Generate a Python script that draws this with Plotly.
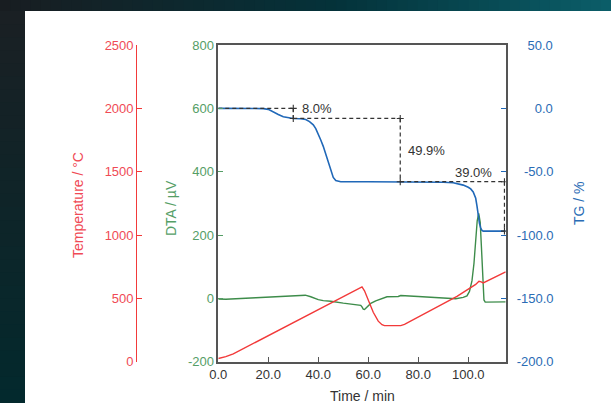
import plotly.graph_objects as go

W, H = 611, 403

# ---- measured curves (time in minutes) ----
tg_time = [0, 10, 18, 20, 22, 24, 26, 28, 30, 33, 35, 36.5, 38, 39, 40, 41, 42, 43, 44, 45,
           46, 47, 48, 49, 60, 75, 86, 90, 94, 96, 98, 100, 101, 102, 103, 103.5, 104,
           104.5, 105, 105.5, 106, 110, 115]
tg_percent = [0, 0, -0.2, -0.8, -2.5, -4.8, -6.6, -7.6, -8.0, -8.2, -8.8, -10.5, -13, -16,
              -20, -25, -30, -36.5, -43, -49.5, -54.5, -57, -57.7, -57.9, -57.9, -57.9,
              -58.0, -58.3, -58.7, -59.4, -60.6, -62.3, -63.6, -66, -71, -77, -84.5,
              -90.8, -94.5, -96.4, -96.9, -96.9, -96.9]

dta_time = [0, 3, 15, 25, 34.8, 37, 40, 42, 45, 50, 55, 57, 57.5, 58, 58.5, 59.5, 61, 63,
            65, 67.5, 72, 73, 80, 88, 95, 98, 99.5, 100.5, 101.5, 102.3, 103, 103.6, 104.2,
            104.8, 105.3, 105.8, 106.3, 106.8, 110, 115]
dta_uv = [-2, -3, 2, 6, 10, 5, -4, -7, -9, -15, -19, -22, -27, -34, -35, -28, -16, -8,
          -2, 5, 6, 9, 6, 2, -1, 3, 8, 22, 55, 110, 190, 245, 268, 240, 160, 60, -5,
          -12, -12, -11]

temp_time = [0, 3, 6, 57.5, 58.5, 60, 62, 64, 65.5, 66.5, 73, 74.5, 85.5, 95.5, 103,
             104.3, 105.2, 106, 115]
temp_c = [25, 40, 62, 590, 560, 480, 390, 320, 292, 285, 285, 295, 410, 515, 610,
          635, 630, 622, 710]

# ---- mass-loss steps read on the TG curve ----
step_time = [30.0, 72.8, 114.5]
step_level = [0.0, -8.0, -57.9, -96.9]

# ---- axis ticks ----
x_ticks = [0, 20, 40, 60, 80, 100]
dta_ticks = [-200, 0, 200, 400, 600, 800]
tg_ticks = [-200, -150, -100, -50, 0, 50]
temp_ticks = [0, 500, 1000, 1500, 2000, 2500]

RED_LINE, RED_TXT = "#f23a3a", "#f04a55"
GREEN_LINE, GREEN_TXT = "#3d8c4a", "#559e66"
BLUE_LINE, BLUE_TXT = "#2068b8", "#2a6cb5"
FRAME = "#555555"
TXT = "#333333"
FONT = "Liberation Sans, Arial, Helvetica, sans-serif"

# plot box in pixels
BOX_L, BOX_R, BOX_T, BOX_B = 218.3, 505.7, 45.0, 361.7
TEMP_AXIS_X = 136.3


def fx(p):
    return p / W


def fy(p):
    return 1 - p / H


fig = go.Figure()

fig.add_trace(go.Scatter(x=temp_time, y=temp_c, yaxis="y3", mode="lines",
                         line=dict(color=RED_LINE, width=1.4), showlegend=False))
fig.add_trace(go.Scatter(x=dta_time, y=dta_uv, yaxis="y", mode="lines",
                         line=dict(color=GREEN_LINE, width=1.4), showlegend=False))
fig.add_trace(go.Scatter(x=tg_time, y=tg_percent, yaxis="y2", mode="lines",
                         line=dict(color=BLUE_LINE, width=1.6), showlegend=False))

# dashed construction lines for the step heights
dx, dy = [], []
starts = [0.0] + step_time[:-1]
for i, t in enumerate(step_time):
    dx += [starts[i], t, None, t, t, None]
    dy += [step_level[i], step_level[i], None, step_level[i], step_level[i + 1], None]
fig.add_trace(go.Scatter(x=dx, y=dy, yaxis="y2", mode="lines",
                         line=dict(color=TXT, width=1.2, dash="4px,3px"),
                         showlegend=False, connectgaps=False))

cx, cy = [], []
for i, t in enumerate(step_time):
    cx += [t, t]
    cy += [step_level[i], step_level[i + 1]]
fig.add_trace(go.Scatter(x=cx, y=cy, yaxis="y2", mode="markers",
                         marker=dict(symbol="cross-thin", size=5,
                                     line=dict(color=TXT, width=1.1)),
                         showlegend=False))

pct = [f"{step_level[i] - step_level[i + 1]:.1f}%" for i in range(len(step_time))]
fig.add_annotation(x=step_time[0], y=step_level[0], yref="y2", text=pct[0],
                   showarrow=False, xanchor="left", yanchor="middle", xshift=7,
                   font=dict(family=FONT, size=13, color=TXT))
fig.add_annotation(x=step_time[1], y=(step_level[1] + step_level[2]) / 2, yref="y2",
                   text=pct[1], showarrow=False, xanchor="left", yanchor="middle",
                   xshift=6, font=dict(family=FONT, size=13, color=TXT))
fig.add_annotation(x=step_time[2], y=step_level[2], yref="y2", text=pct[2],
                   showarrow=False, xanchor="right", yanchor="bottom", xshift=-10,
                   yshift=0, font=dict(family=FONT, size=13, color=TXT))

# axis titles
for text, x, y, ang, col in [("Temperature / °C", 78, 205, -90, RED_TXT),
                             ("DTA / µV", 171, 208, -90, GREEN_TXT),
                             ("TG / %", 579, 203, -90, BLUE_TXT),
                             ("Time / min", 362, 396, 0, TXT)]:
    fig.add_annotation(x=fx(x), y=fy(y), xref="paper", yref="paper", text=text,
                       textangle=ang, showarrow=False, xanchor="center",
                       yanchor="middle", font=dict(family=FONT, size=14, color=col))

# dark backdrop around the white sheet
shapes = []


def mix(c1, c2, t):
    a = [int(c1[i:i + 2], 16) for i in (1, 3, 5)]
    b = [int(c2[i:i + 2], 16) for i in (1, 3, 5)]
    return "#" + "".join(f"{round(a[k] + (b[k] - a[k]) * t):02x}" for k in range(3))


n = 60
for k in range(n):
    t = k / (n - 1)
    col = mix("#181d21", "#04323a", min(1, t * 1.8)) if t < 0.55 else \
        mix("#04323a", "#0b5d68", (t - 0.55) / 0.45)
    shapes.append(dict(type="rect", xref="paper", yref="paper", x0=k / n, x1=(k + 1) / n + 0.002,
                       y0=fy(11), y1=1, fillcolor=col, line=dict(width=0), layer="below"))
m = 30
for k in range(m):
    t = k / (m - 1)
    col = mix("#1a2024", "#03292d", t)
    y0 = 11 + (H - 11) * k / m
    y1 = 11 + (H - 11) * (k + 1) / m + 1
    shapes.append(dict(type="rect", xref="paper", yref="paper", x0=0, x1=fx(25),
                       y0=fy(y1), y1=fy(y0), fillcolor=col, line=dict(width=0), layer="below"))


def tg_label(v):
    s = f"{v:.1f}"
    pad = 6 - len(s)
    if v >= 0:
        return "\u2008" + "\u2007" * (pad - 1) + s
    return "\u2007" * pad + s


fig.update_layout(
    width=W, height=H,
    margin=dict(l=0, r=0, t=0, b=0, pad=0, autoexpand=False),
    paper_bgcolor="white", plot_bgcolor="white",
    font=dict(family=FONT, size=13, color=TXT),
    shapes=shapes,
    showlegend=False,
    xaxis=dict(domain=[fx(BOX_L), fx(BOX_R)], range=[0, 115], tickvals=x_ticks,
               ticktext=[f"{v:.1f}" for v in x_ticks], ticks="inside", ticklen=5,
               tickcolor=FRAME, showline=True, linecolor=FRAME, linewidth=1.5,
               mirror=True, showgrid=False, zeroline=False, automargin=False,
               tickfont=dict(family=FONT, size=13, color=TXT)),
    yaxis=dict(domain=[fy(BOX_B), fy(BOX_T)], range=[-200, 800], tickvals=dta_ticks,
               ticktext=[str(v) if v >= 0 else "-" + str(-v) for v in dta_ticks],
               ticks="inside", ticklen=5, tickcolor=GREEN_TXT, showline=True,
               linecolor=FRAME, linewidth=1.5, mirror=True, showgrid=False,
               zeroline=False, automargin=False,
               tickfont=dict(family=FONT, size=13, color=GREEN_TXT)),
    yaxis2=dict(overlaying="y", side="right", anchor="x", range=[-200, 50],
                tickvals=tg_ticks, ticktext=[tg_label(v) for v in tg_ticks],
                ticks="inside", ticklen=5, tickcolor=BLUE_LINE, showline=False,
                showgrid=False, zeroline=False, ticklabelstandoff=10, automargin=False,
                tickfont=dict(family=FONT, size=13, color=BLUE_TXT)),
    yaxis3=dict(overlaying="y", side="left", anchor="free", position=fx(TEMP_AXIS_X),
                range=[0, 2500], tickvals=temp_ticks, ticktext=[str(v) for v in temp_ticks],
                ticks="inside", ticklen=5, tickcolor=RED_LINE, showline=True,
                linecolor=RED_LINE, linewidth=1.3, showgrid=False, zeroline=False,
                automargin=False, tickfont=dict(family=FONT, size=13, color=RED_TXT)),
)

fig.write_html("out.html")
